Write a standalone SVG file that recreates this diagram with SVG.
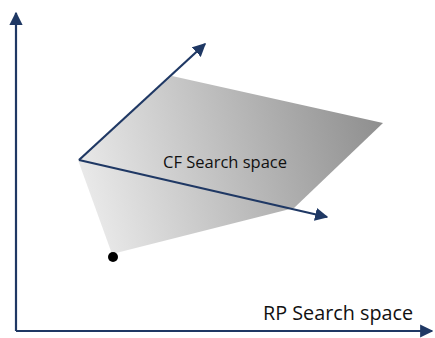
<svg xmlns="http://www.w3.org/2000/svg" width="435" height="338" viewBox="0 0 435 338">
<defs>
<linearGradient id="g" x1="78" y1="200" x2="383" y2="120" gradientUnits="userSpaceOnUse">
<stop offset="0" stop-color="#ececec"/>
<stop offset="1" stop-color="#8e8e8e"/>
</linearGradient>
<marker id="ah" viewBox="0 0 10 10" refX="9" refY="5" markerWidth="6" markerHeight="6" markerUnits="strokeWidth" orient="auto">
<path d="M0,0 L10,5 L0,10 z" fill="#1f3864"/>
</marker>
<style>
.ln{stroke:#1f3864;stroke-width:2.2;fill:none;marker-end:url(#ah)}
.lbl{font-family:"Open Sans","Liberation Sans",sans-serif;fill:#111}
</style>
</defs>
<rect width="435" height="338" fill="#fff"/>
<g id="cf-space">
<polygon points="78,160 172,76 383,123 294,208 112,254" fill="url(#g)"/>
<text class="lbl" x="163" y="168" font-size="16.5">CF Search space</text>
</g>
<g id="origin-point">
<circle cx="113" cy="257" r="5" fill="#000"/>
</g>
<g id="rp-label">
<text class="lbl" x="263" y="320" font-size="19.8">RP Search space</text>
</g>
<g id="connectors">
<polyline class="ln" points="16,331 16,13"/>
<polyline class="ln" points="16,331 432,331"/>
<polyline class="ln" points="79,160 205,44"/>
<polyline class="ln" points="79,160 327,217"/>
</g>
</svg>
